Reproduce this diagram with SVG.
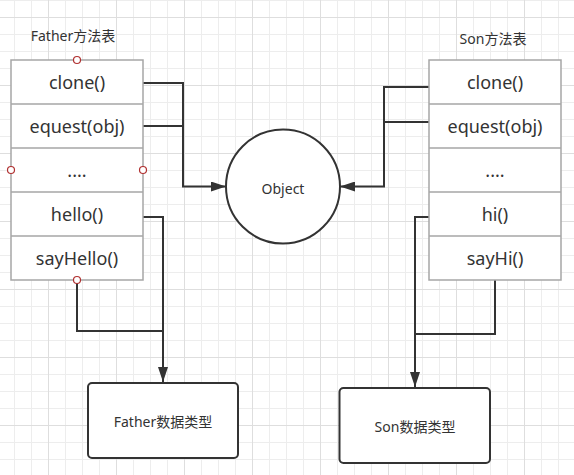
<svg xmlns="http://www.w3.org/2000/svg" width="574" height="475" viewBox="0 0 574 475">
  <style>
    text { font-family: "Noto Sans", "Noto Sans CJK SC", sans-serif; fill: #333333; text-anchor: middle; dominant-baseline: central; }
    .row { font-size: 18px; }
    .lbl { font-size: 14px; }
    .tbl { fill: #ffffff; stroke: #a6a6a6; stroke-width: 1.5; }
    .sep { stroke: #a6a6a6; stroke-width: 1.5; }
    .box { fill: #ffffff; stroke: #333333; stroke-width: 2; }
    .conn { fill: none; stroke: #333333; stroke-width: 2; }
    .handle { fill: #ffffff; stroke: #b03030; stroke-width: 1.2; }
  </style>
  <defs>
    <pattern id="grid" patternUnits="userSpaceOnUse" x="48" y="17" width="68" height="68">
      <path d="M17.5 0V68M34.5 0V68M51.5 0V68M0 17.5H68M0 34.5H68M0 51.5H68" stroke="#ededed" stroke-width="1"/>
      <path d="M0.5 0V68M0 0.5H68" stroke="#dedede" stroke-width="1"/>
    </pattern>
    <marker id="arr" markerUnits="userSpaceOnUse" markerWidth="15" markerHeight="10" refX="15" refY="5" orient="auto">
      <path d="M0 0L15 5L0 10Z" fill="#333333"/>
    </marker>
  </defs>
  <rect width="574" height="475" fill="#ffffff"/>
  <rect width="574" height="475" fill="url(#grid)"/>

  <g id="connectors">
    <path class="conn" d="M143 83H183V186.5H226" marker-end="url(#arr)"/>
    <path class="conn" d="M143 126H183"/>
    <path class="conn" d="M143 217H163V382" marker-end="url(#arr)"/>
    <path class="conn" d="M77 280V331H163"/>
    <path class="conn" d="M429 87H384V186.5H340" marker-end="url(#arr)"/>
    <path class="conn" d="M429 122H384"/>
    <path class="conn" d="M429 217H415V387" marker-end="url(#arr)"/>
    <path class="conn" d="M495 280V334H415"/>
  </g>

  <g id="father-table">
    <text class="lbl" x="73" y="35">Father方法表</text>
    <rect class="tbl" x="11" y="60" width="132" height="220"/>
    <path class="sep" d="M11 104H143M11 148H143M11 192H143M11 236H143"/>
    <text class="row" x="77" y="82">clone()</text>
    <text class="row" x="77" y="126">equest(obj)</text>
    <text class="row" x="77" y="170">....</text>
    <text class="row" x="77" y="214">hello()</text>
    <text class="row" x="77" y="258">sayHello()</text>
    <circle class="handle" cx="77" cy="60" r="3.5"/>
    <circle class="handle" cx="11" cy="170" r="3.5"/>
    <circle class="handle" cx="143" cy="170" r="3.5"/>
    <circle class="handle" cx="77" cy="280" r="3.5"/>
  </g>

  <g id="son-table">
    <text class="lbl" x="493" y="38">Son方法表</text>
    <rect class="tbl" x="429" y="60" width="132" height="220"/>
    <path class="sep" d="M429 104H561M429 148H561M429 192H561M429 236H561"/>
    <text class="row" x="495" y="82">clone()</text>
    <text class="row" x="495" y="126">equest(obj)</text>
    <text class="row" x="495" y="170">....</text>
    <text class="row" x="495" y="214">hi()</text>
    <text class="row" x="495" y="258">sayHi()</text>
  </g>

  <g id="object">
    <circle class="box" cx="283" cy="186.5" r="57"/>
    <text class="lbl" x="283" y="188">Object</text>
  </g>

  <g id="father-type">
    <rect class="box" x="88" y="383" width="150" height="75" rx="4"/>
    <text class="lbl" x="163" y="421">Father数据类型</text>
  </g>

  <g id="son-type">
    <rect class="box" x="339.5" y="388" width="150.5" height="75" rx="4"/>
    <text class="lbl" x="415" y="426">Son数据类型</text>
  </g>
</svg>
